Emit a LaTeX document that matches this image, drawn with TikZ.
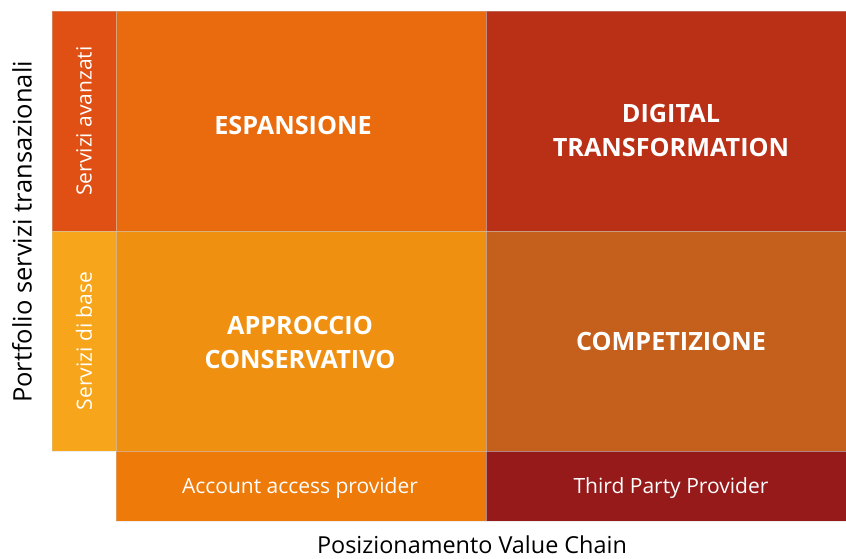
\documentclass[tikz,border=0pt]{standalone}
\usepackage{fontspec}
\setmainfont{Open Sans}
\definecolor{cAvz}{RGB}{224,80,20}
\definecolor{cBase}{RGB}{247,166,28}
\definecolor{cEsp}{RGB}{233,107,14}
\definecolor{cDig}{RGB}{186,48,23}
\definecolor{cApp}{RGB}{240,144,16}
\definecolor{cComp}{RGB}{196,95,28}
\definecolor{cAcc}{RGB}{238,122,10}
\definecolor{cTpp}{RGB}{150,26,26}
\tikzset{
  cell/.style={draw=white!80!black, draw opacity=0.35, line width=0.6pt},
  bigtxt/.style={text=white, font=\fontsize{25.2}{34}\selectfont\bfseries, align=center},
  smalltxt/.style={text=white, font=\fontsize{21}{24}\selectfont},
  axistxt/.style={text=black, font=\fontsize{23.4}{26}\selectfont}
}
\begin{document}
\begin{tikzpicture}[x=1pt,y=-1pt]
\useasboundingbox (0,0) rectangle (846,559);
% cells
\fill[cAvz] (52,11) rectangle (116,231);
\fill[cBase] (52,231) rectangle (116,451);
\fill[cEsp] (116,11) rectangle (486,231);
\fill[cDig] (486,11) rectangle (846,231);
\fill[cApp] (116,231) rectangle (486,451);
\fill[cComp] (486,231) rectangle (846,451);
\fill[cAcc] (116,451) rectangle (486,521);
\fill[cTpp] (486,451) rectangle (846,521);
\draw[cell] (52,11) rectangle (116,231);
\draw[cell] (52,231) rectangle (116,451);
\draw[cell] (116,11) rectangle (486,231);
\draw[cell] (486,11) rectangle (846,231);
\draw[cell] (116,231) rectangle (486,451);
\draw[cell] (486,231) rectangle (846,451);
\draw[cell] (116,451) rectangle (486,521);
\draw[cell] (486,451) rectangle (846,521);
% labels
\node[bigtxt] (esp) at (293,125) {ESPANSIONE};
\node[bigtxt] (dig) at (671,130) {DIGITAL\\TRANSFORMATION};
\node[bigtxt] (app) at (300,342) {APPROCCIO\\CONSERVATIVO};
\node[bigtxt] (comp) at (671,341) {COMPETIZIONE};
\node[smalltxt] (acc) at (300,488) {Account access provider};
\node[smalltxt] (tpp) at (671,488) {Third Party Provider};
\node[smalltxt, rotate=90] (avz) at (84,121) {Servizi avanzati};
\node[smalltxt, rotate=90] (base) at (84,341) {Servizi di base};
\node[axistxt, font=\fontsize{25.5}{28}\selectfont, rotate=90] (port) at (22,232) {Portfolio servizi transazionali};
\node[axistxt] (pos) at (472,545) {Posizionamento Value Chain};
\end{tikzpicture}
\end{document}
